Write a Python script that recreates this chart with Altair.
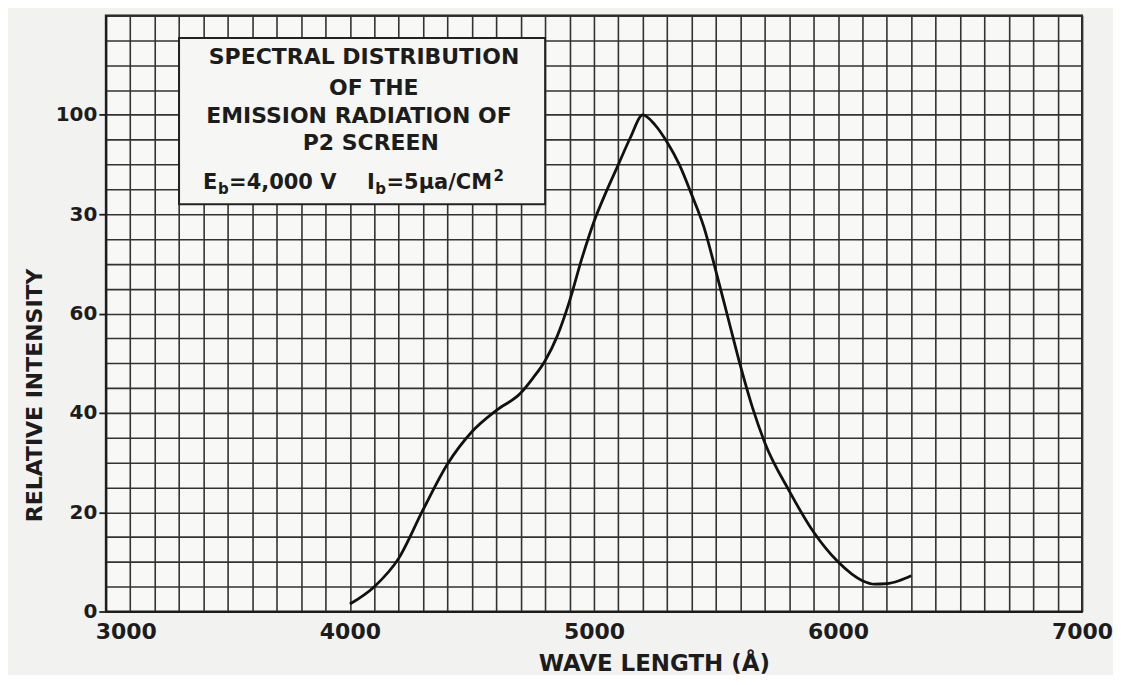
import altair as alt
import pandas as pd

# ---- data ----
wavelength = [4000, 4100, 4200, 4300, 4400, 4500, 4600, 4700, 4750, 4800, 4850, 4900, 4950,
              5000, 5050, 5100, 5150, 5200, 5250, 5300, 5350, 5400, 5450, 5500, 5550,
              5600, 5650, 5700, 5800, 5900, 6000, 6100, 6150, 6200, 6250, 6300]
intensity = [1.5, 5.0, 10.7, 20.5, 29.7, 36.2, 40.5, 44.0, 47.0, 50.5, 55.5, 62.5, 71.0,
             78.5, 84.5, 90.0, 95.5, 100.0, 98.0, 94.5, 90.0, 84.0, 77.5, 68.5, 59.0,
             49.5, 41.0, 34.0, 24.3, 16.0, 10.0, 6.2, 5.5, 5.6, 6.2, 7.2]

x_grid = list(range(3000, 7001, 100))
y_grid = list(range(0, 121, 5))
x_tick_values = [3000, 4000, 5000, 6000, 7000]
x_tick_labels = ["3000", "4000", "5000", "6000", "7000"]
y_tick_values = [0, 20, 40, 60, 80, 100]
y_tick_labels = ["0", "20", "40", "60", "30", "100"]

x_title = "WAVE LENGTH (Å)"
y_title = "RELATIVE INTENSITY"

box_x = [3300, 4800]
box_y = [82.0, 115.5]
title_lines = ["SPECTRAL DISTRIBUTION", "OF THE", "EMISSION RADIATION OF", "P2 SCREEN"]
title_line_x = [4058, 4098, 4037, 4086]
title_line_y = [111.6, 105.5, 99.8, 94.4]
eq_y = 86.3
eq_main_text = ["E", "=4,000 V", "I", "=5μa/CM"]
eq_main_x = [3398, 3505, 4070, 4150]
eq_sub_text = ["b", "b"]
eq_sub_x = [3460, 4104]
eq_sup_text = ["2"]
eq_sup_x = [4588]

FONT = "DejaVu Sans"
INK = "#1c1c1c"


def label_expr(values, labels):
    expr = "''"
    for v, l in reversed(list(zip(values, labels))):
        expr = f"datum.value == {v} ? '{l}' : ({expr})"
    return expr


def is_labelled(values):
    return " || ".join(f"datum.value == {v}" for v in values)


curve = pd.DataFrame({"wavelength": wavelength, "intensity": intensity})
box = pd.DataFrame({"x0": [box_x[0]], "x1": [box_x[1]], "y0": [box_y[0]], "y1": [box_y[1]]})
lines_df = pd.DataFrame({"text": title_lines, "x": title_line_x, "y": title_line_y})
eq_main = pd.DataFrame({"text": eq_main_text, "x": eq_main_x, "y": [eq_y] * len(eq_main_x)})
eq_sub = pd.DataFrame({"text": eq_sub_text, "x": eq_sub_x, "y": [eq_y] * len(eq_sub_x)})
eq_sup = pd.DataFrame({"text": eq_sup_text, "x": eq_sup_x, "y": [eq_y] * len(eq_sup_x)})

xscale = alt.Scale(domain=[3000, 7000], nice=False, zero=False)
yscale = alt.Scale(domain=[0, 120], nice=False, zero=True)

x_axis = alt.Axis(
    values=x_grid, grid=True, gridColor="#333333", gridWidth=1.6, gridOpacity=1,
    ticks=False, domain=True, domainColor=INK, domainWidth=2,
    labelExpr=label_expr(x_tick_values, x_tick_labels), labelOverlap=False,
    labelFlush=False,
    labelOffset={"condition": {"test": f"datum.value == {x_tick_values[0]}", "value": 20}, "value": 0},
    labelFont=FONT, labelFontSize=22, labelFontWeight="bold", labelColor=INK,
    labelPadding=10,
    title=x_title, titleFont=FONT, titleFontSize=23, titleFontWeight="bold",
    titleColor=INK, titleX=549, titleY=52, titleAlign="center", titleBaseline="middle",
)
y_axis = alt.Axis(
    values=y_grid, grid=True, gridColor="#333333", gridWidth=1.6, gridOpacity=1,
    ticks=True, tickSize=7, tickWidth=1.8, tickColor=INK,
    tickOpacity={"condition": {"test": is_labelled(y_tick_values), "value": 1}, "value": 0},
    domain=True, domainColor=INK, domainWidth=2,
    labelExpr=label_expr(y_tick_values, y_tick_labels), labelOverlap=False,
    labelFlush=False,
    labelFont=FONT, labelFontSize=20, labelFontWeight="bold", labelColor=INK,
    labelPadding=2,
    title=y_title, titleFont=FONT, titleFontSize=22, titleFontWeight="bold",
    titleColor=INK, titleX=-71, titleY=380, titleAlign="center", titleBaseline="middle",
    titleAngle=270,
)


def X(field):
    return alt.X(field, scale=xscale, axis=x_axis, title=x_title)


def Y(field):
    return alt.Y(field, scale=yscale, axis=y_axis, title=y_title)


line = alt.Chart(curve).mark_line(color="#111111", strokeWidth=2.8, interpolate="monotone").encode(
    x=X("wavelength:Q"), y=Y("intensity:Q"),
)

rect = alt.Chart(box).mark_rect(fill="#f6f6f4", stroke="#222222", strokeWidth=2).encode(
    x=X("x0:Q"), x2="x1:Q", y=Y("y0:Q"), y2="y1:Q",
)

box_text = alt.Chart(lines_df).mark_text(
    font=FONT, fontSize=22, fontWeight="bold", color=INK, align="center", baseline="middle"
).encode(x=X("x:Q"), y=Y("y:Q"), text="text:N")

eq_text = alt.Chart(eq_main).mark_text(
    font=FONT, fontSize=21, fontWeight="bold", color=INK, align="left", baseline="middle"
).encode(x=X("x:Q"), y=Y("y:Q"), text="text:N")

sub_text = alt.Chart(eq_sub).mark_text(
    font=FONT, fontSize=15, fontWeight="bold", color=INK, align="left", baseline="middle", dy=6
).encode(x=X("x:Q"), y=Y("y:Q"), text="text:N")

sup_text = alt.Chart(eq_sup).mark_text(
    font=FONT, fontSize=15, fontWeight="bold", color=INK, align="left", baseline="middle", dy=-7
).encode(x=X("x:Q"), y=Y("y:Q"), text="text:N")

chart = alt.layer(line, rect, box_text, eq_text, sub_text, sup_text).properties(
    width=978, height=597,
    autosize=alt.AutoSizeParams(type="none"),
    padding={"left": 98, "top": 7, "right": 31, "bottom": 63},
    background="#f2f2f0",
).configure_view(
    stroke=INK, strokeWidth=2, fill="#f8f8f6"
)

chart.save("out.html", embed_options={"renderer": "svg", "actions": False})
